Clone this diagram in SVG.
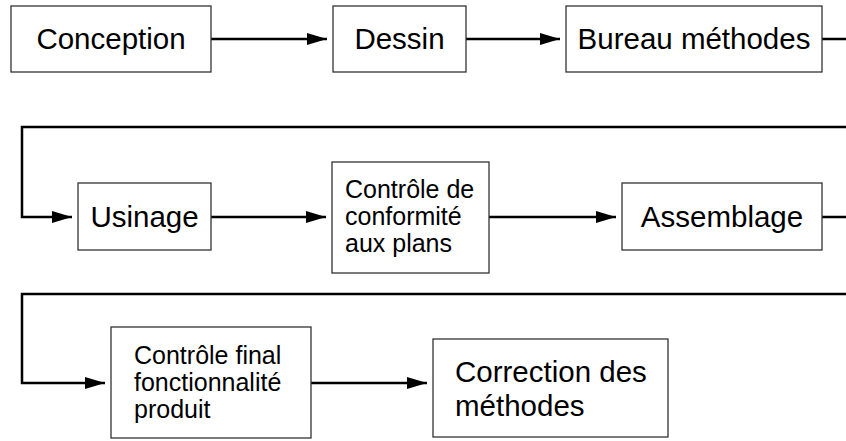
<svg xmlns="http://www.w3.org/2000/svg" width="846" height="441" viewBox="0 0 846 441">
<defs>
<marker id="arr" markerUnits="userSpaceOnUse" markerWidth="21" markerHeight="13" refX="20" refY="6" orient="auto">
<path d="M0,0 L20,6 L0,12 z" fill="#000"/>
</marker>
<style>
.box{fill:#fff;stroke:#333;stroke-width:1.3}
.big{font-family:"Liberation Sans",Arial,sans-serif;font-size:29.5px;fill:#000}
.mid{font-family:"Liberation Sans",Arial,sans-serif;font-size:25px;fill:#000}
.c{text-anchor:middle}
.ln{fill:none;stroke:#000;stroke-width:2.5;stroke-linejoin:miter}
</style>
</defs>
<rect width="846" height="441" fill="#fff"/>
<g id="connectors">
<path class="ln" d="M211,39 H327" marker-end="url(#arr)"/>
<path class="ln" d="M466,39 H560" marker-end="url(#arr)"/>
<path class="ln" d="M822,39 H870 V127 H22 V217 H72" marker-end="url(#arr)"/>
<path class="ln" d="M211,217 H326" marker-end="url(#arr)"/>
<path class="ln" d="M489,217 H616" marker-end="url(#arr)"/>
<path class="ln" d="M822,217 H870 V294 H22 V383 H105" marker-end="url(#arr)"/>
<path class="ln" d="M311,383 H427" marker-end="url(#arr)"/>
</g>
<g id="conception">
<rect class="box" x="11" y="6" width="200" height="66"/>
<text class="big c" x="111" y="49">Conception</text>
</g>
<g id="dessin">
<rect class="box" x="333" y="6" width="133" height="66"/>
<text class="big c" x="399.5" y="49">Dessin</text>
</g>
<g id="bureau">
<rect class="box" x="566" y="6" width="256" height="66"/>
<text class="big c" x="694" y="49">Bureau méthodes</text>
</g>
<g id="usinage">
<rect class="box" x="78" y="183" width="133" height="67"/>
<text class="big c" x="144.5" y="227">Usinage</text>
</g>
<g id="controle">
<rect class="box" x="332" y="162" width="157" height="111"/>
<text class="mid" x="345" y="198">Contrôle de</text>
<text class="mid" x="345" y="225">conformité</text>
<text class="mid" x="345" y="252">aux plans</text>
</g>
<g id="assemblage">
<rect class="box" x="622" y="183" width="200" height="67"/>
<text class="big c" x="722" y="227">Assemblage</text>
</g>
<g id="controle-final">
<rect class="box" x="111" y="327" width="200" height="111"/>
<text class="mid" x="134" y="364">Contrôle final</text>
<text class="mid" x="134" y="391">fonctionnalité</text>
<text class="mid" x="134" y="418">produit</text>
</g>
<g id="correction">
<rect class="box" x="433" y="339" width="235" height="98"/>
<text class="big" x="455" y="382">Correction des</text>
<text class="big" x="455" y="416">méthodes</text>
</g>
</svg>
